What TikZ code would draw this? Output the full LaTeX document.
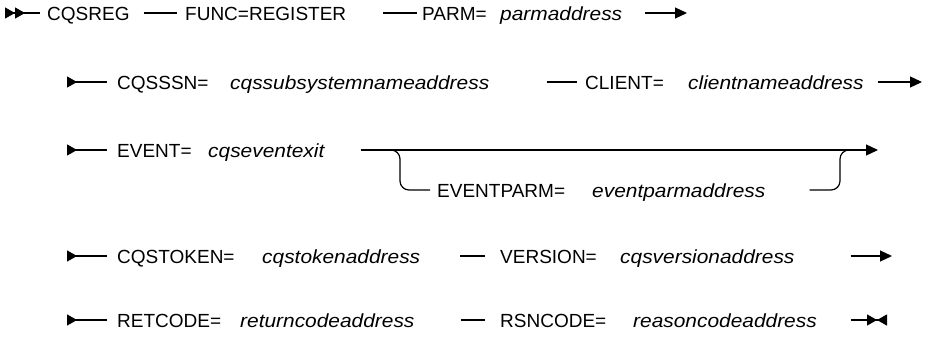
\documentclass[tikz,border=0pt]{standalone}
\usepackage{fontspec}
\setmainfont{Liberation Sans}
\newfontfamily\varfont{Liberation Sans}[FakeStretch=1.1]
\usetikzlibrary{arrows.meta,positioning}
\tikzset{
  rail/.style={line width=1.2pt},
  kw/.style={anchor=base west,inner sep=0pt,font=\fontsize{19}{23}\selectfont},
  var/.style={kw,font=\fontsize{19}{23}\varfont\itshape},
  firstentry/.style={rail,arrows={{Triangle[reversed,length=10pt,width=11pt]Triangle[reversed,length=10pt,width=11pt]}-}},
  entry/.style={rail,arrows={{Triangle[reversed,length=10pt,width=11pt]}-}},
  goon/.style={rail,arrows={-{Triangle[length=12pt,width=11pt]}}},
  finish/.style={rail,arrows={-{Triangle[length=10pt,width=11pt]Triangle[reversed,length=10pt,width=11pt]}}},
}
\begin{document}
\begin{tikzpicture}[x=1pt,y=-1pt]
\useasboundingbox[fill=white] (0,0) rectangle (936,338);
% row 1
\coordinate (r1in) at (5,13);
\coordinate (r1out) at (687,13);
\node[kw] (cqsreg) at (47,20) {CQSREG};
\node[kw] (func) at (185,20) {FUNC=REGISTER};
\node[kw] (parm) at (422,20) {PARM=};
\node[var] (parmval) at (500,20) {parmaddress};
\draw[firstentry,shorten >=7pt] (r1in) -- (r1in -| cqsreg.west);
\draw[rail,shorten <=14pt,shorten >=8pt] (cqsreg.east |- r1in) -- (func.west |- r1in);
\draw[rail,shorten <=37pt,shorten >=5pt] (func.east |- r1in) -- (parm.west |- r1in);
\draw[goon,shorten <=23pt] (parmval.east |- r1in) -- (r1out);
% row 2
\coordinate (r2in) at (67,82);
\coordinate (r2out) at (922,82);
\node[kw] (cqsssn) at (117,89) {CQSSSN=};
\node[var] (cqsssnval) at (230,89) {cqssubsystemnameaddress};
\node[kw] (client) at (585,89) {CLIENT=};
\node[var] (clientval) at (688,89) {clientnameaddress};
\draw[entry,shorten >=10pt] (r2in) -- (r2in -| cqsssn.west);
\draw[rail,shorten <=58pt,shorten >=8pt] (cqsssnval.east |- r2in) -- (client.west |- r2in);
\draw[goon,shorten <=14pt] (clientval.east |- r2in) -- (r2out);
% row 3 with optional EVENTPARM
\coordinate (r3in) at (67,150);
\coordinate (r3out) at (878,150);
\coordinate (fork) at (388,150);
\coordinate (r3b) at (400,190);
\coordinate (rejoin) at (840,150);
\coordinate (join) at (852,150);
\node[kw] (event) at (117,157) {EVENT=};
\node[var] (eventval) at (208,157) {cqseventexit};
\node[kw] (eparm) at (437,197) {EVENTPARM=};
\node[var] (eparmval) at (592,197) {eventparmaddress};
\draw[entry,shorten >=10pt] (r3in) -- (r3in -| event.west);
\draw[goon,shorten <=36pt] (eventval.east |- r3in) -- (r3out);
\draw[rail,rounded corners=9pt,shorten >=7pt] (fork) -| (r3b) -- (r3b -| eparm.west);
\draw[rail,rounded corners=9pt,shorten <=44pt] (eparmval.east |- r3b) -| (rejoin) -- (join);
% row 4
\coordinate (r4in) at (67,256);
\coordinate (r4out) at (892,256);
\node[kw] (token) at (117,263) {CQSTOKEN=};
\node[var] (tokenval) at (262,263) {cqstokenaddress};
\node[kw] (version) at (500,263) {VERSION=};
\node[var] (versionval) at (620,263) {cqsversionaddress};
\draw[entry,shorten >=10pt] (r4in) -- (r4in -| token.west);
\draw[rail,shorten <=40pt,shorten >=15pt] (tokenval.east |- r4in) -- (version.west |- r4in);
\draw[goon,shorten <=56pt] (versionval.east |- r4in) -- (r4out);
% row 5
\coordinate (r5in) at (67,320);
\coordinate (r5out) at (887,320);
\node[kw] (retcode) at (117,327) {RETCODE=};
\node[var] (retcodeval) at (240,327) {returncodeaddress};
\node[kw] (rsncode) at (500,327) {RSNCODE=};
\node[var] (rsncodeval) at (633,327) {reasoncodeaddress};
\draw[entry,shorten >=10pt] (r5in) -- (r5in -| retcode.west);
\draw[rail,shorten <=46pt,shorten >=15pt] (retcodeval.east |- r5in) -- (rsncode.west |- r5in);
\draw[finish,shorten <=34pt] (rsncodeval.east |- r5in) -- (r5out);
\end{tikzpicture}
\end{document}
